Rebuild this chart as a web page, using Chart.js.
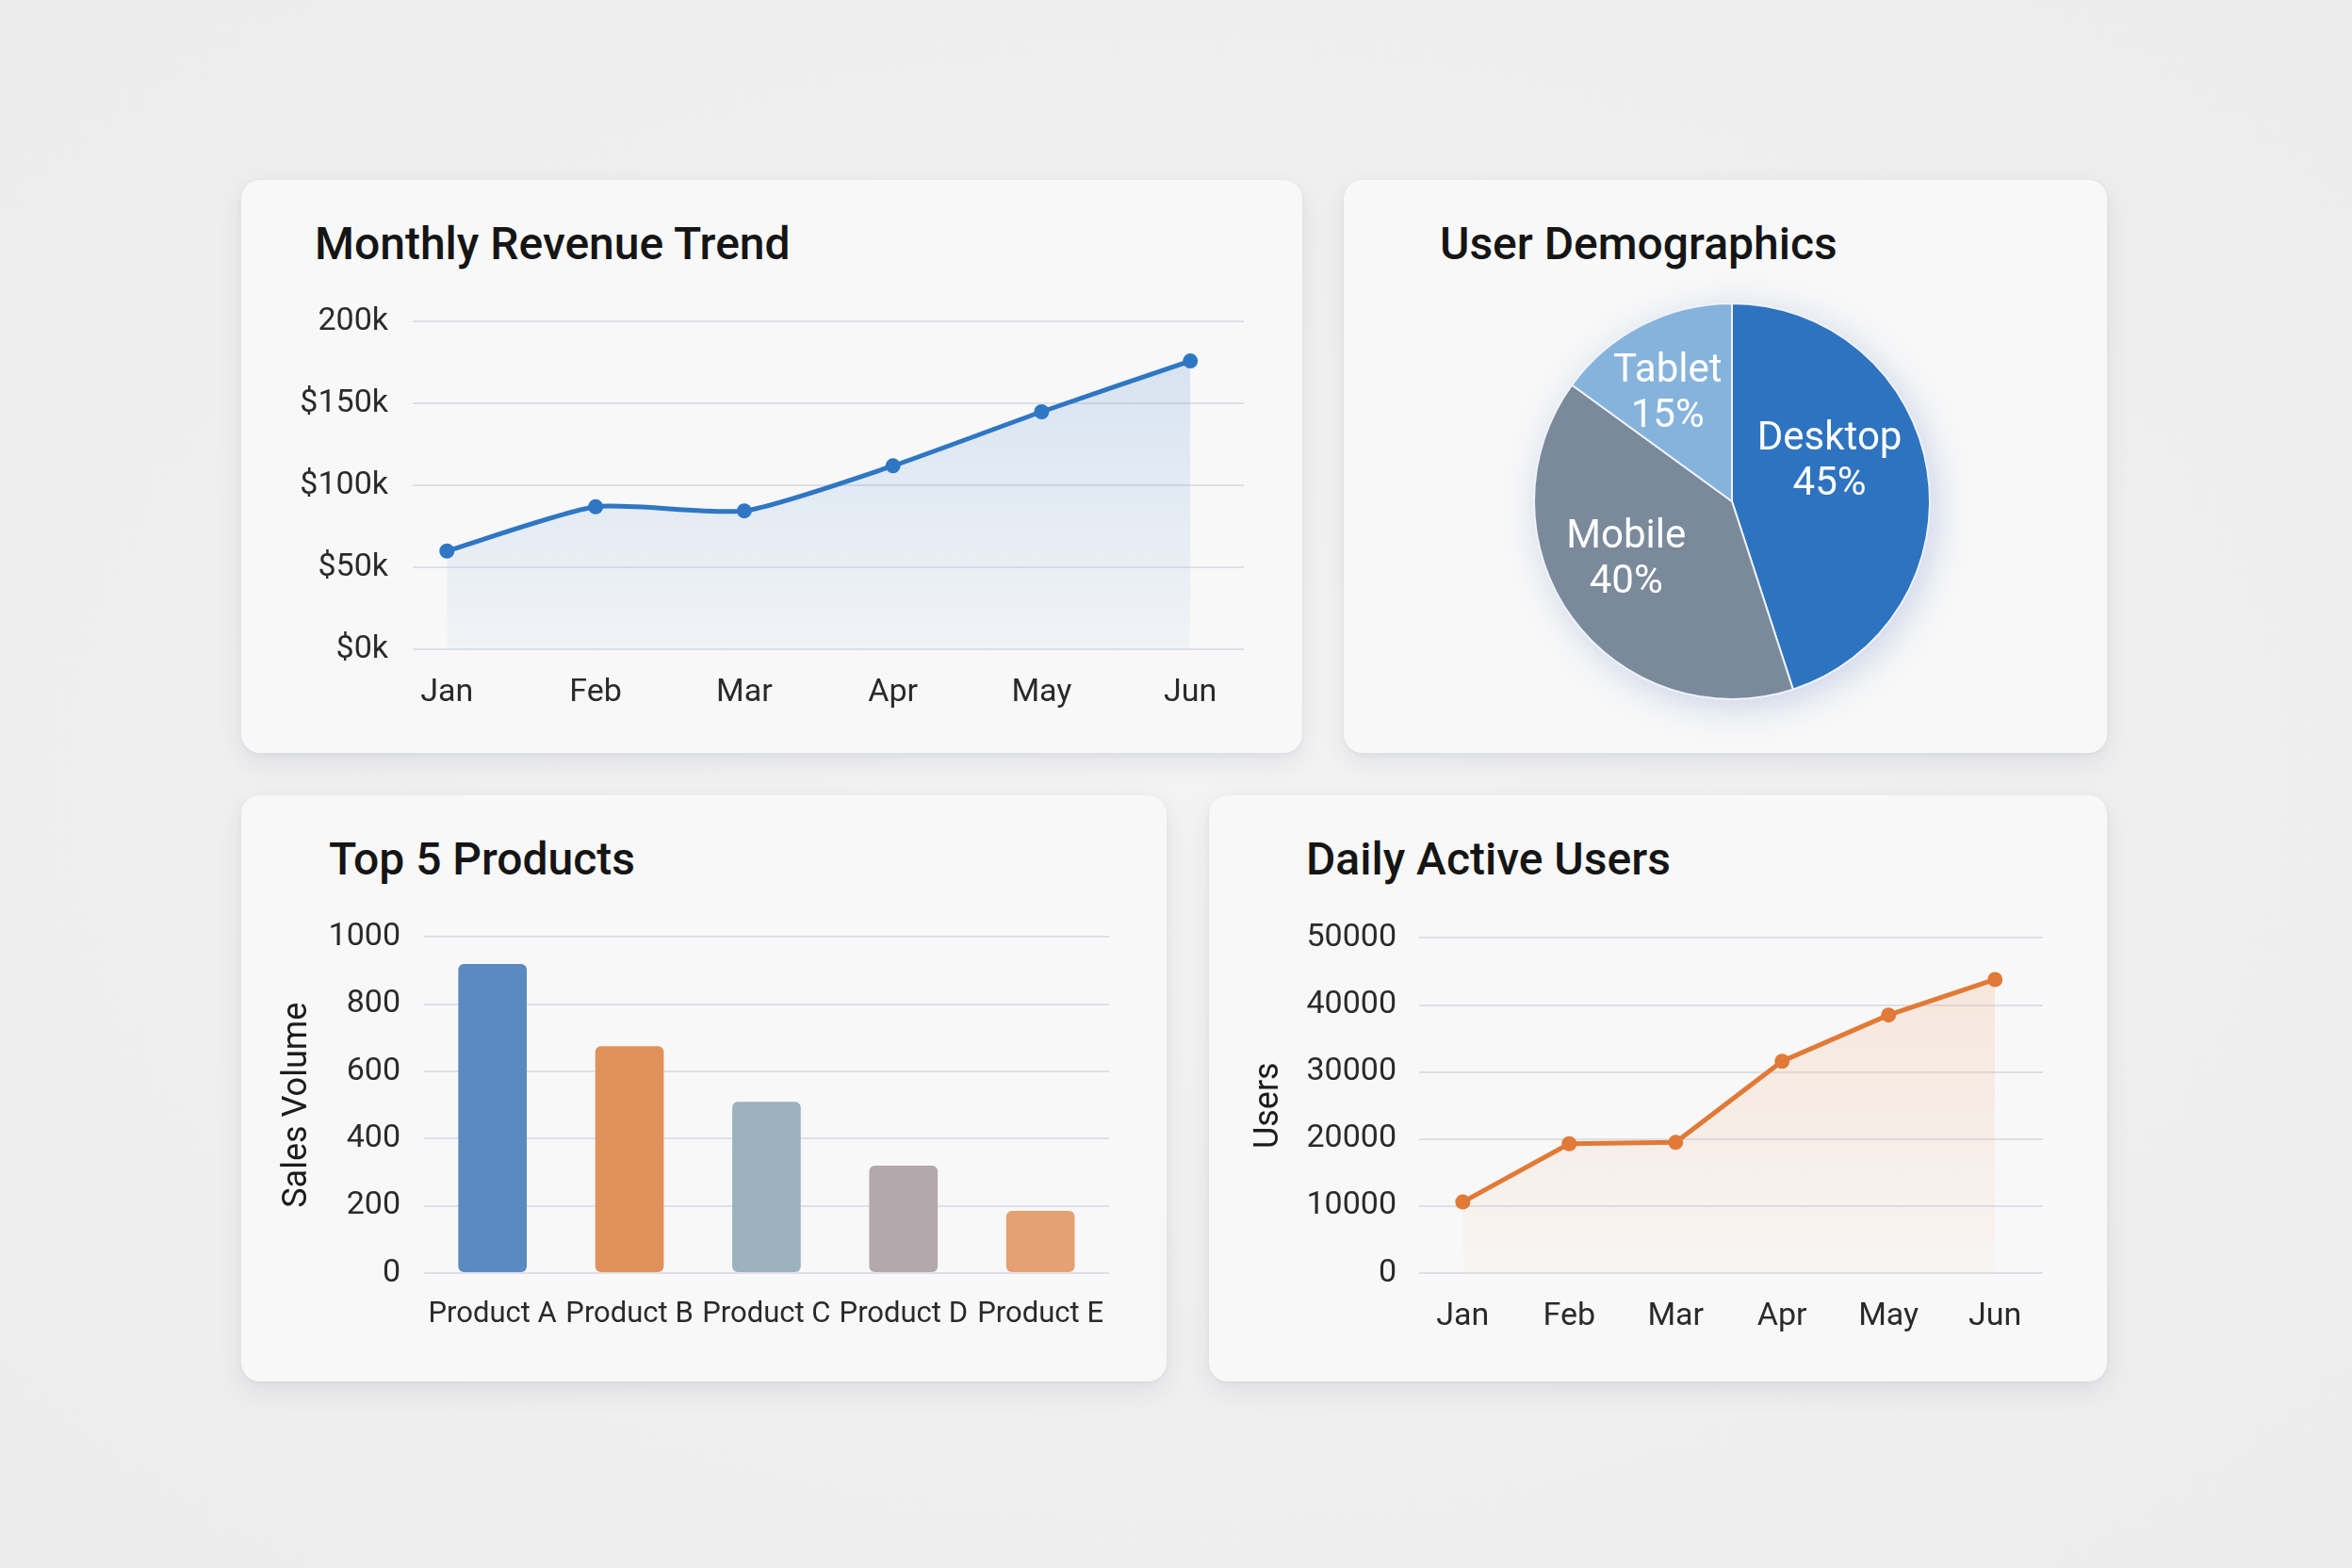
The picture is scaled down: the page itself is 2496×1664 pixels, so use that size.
<!DOCTYPE html>
<html>
<head>
<meta charset="utf-8">
<title>Dashboard</title>
<script src="https://cdn.jsdelivr.net/npm/chart.js@4.4.1/dist/chart.umd.min.js"></script>
<style>
    html, body {
        margin: 0;
        padding: 0;
        width: 2496px;
        height: 1664px;
        overflow: hidden;
        background: radial-gradient(ellipse at center, #f3f3f4 0%, #ececed 100%);
        font-family: Roboto, "Noto Sans", sans-serif;
    }
    .card {
        position: absolute;
        background: #f8f8f8;
        border-radius: 20px;
        box-shadow: 0 10px 28px rgba(40, 50, 70, 0.09), 0 2px 5px rgba(40, 50, 70, 0.05);
    }
    .card-title {
        position: absolute;
        margin: 0;
        font-size: 48px;
        font-weight: 500;
        color: #151515;
        line-height: 1;
        white-space: nowrap;
    }
    canvas {
        position: absolute;
    }
</style>
</head>
<body>

<div class="card" style="left:256px; top:191px; width:1126px; height:608px;"></div>
<div class="card" style="left:1426px; top:191px; width:810px; height:608px;"></div>
<div class="card" style="left:256px; top:844px; width:982px; height:622px;"></div>
<div class="card" style="left:1283px; top:844px; width:953px; height:622px;"></div>

<h2 class="card-title" style="left:334px; top:235px;">Monthly Revenue Trend</h2>
<h2 class="card-title" style="left:1528px; top:235px;">User Demographics</h2>
<h2 class="card-title" style="left:349px; top:888px;">Top 5 Products</h2>
<h2 class="card-title" style="left:1386px; top:888px;">Daily Active Users</h2>

<canvas id="revenueChart" style="left:300px; top:295px;" width="1028" height="474"></canvas>
<canvas id="demoChart" style="left:1578px; top:272px;" width="520" height="520"></canvas>
<canvas id="productsChart" style="left:280px; top:949px;" width="909" height="482"></canvas>
<canvas id="usersChart" style="left:1310px; top:951px;" width="866" height="480"></canvas>

<script>
// Chart data
const months = ['Jan', 'Feb', 'Mar', 'Apr', 'May', 'Jun'];

// Revenue in thousands of dollars
const revenue = [60, 87, 84.5, 112, 145, 176];
const revenueTickLabels = ['$0k', '$50k', '$100k', '$150k', '200k'];

const deviceLabels = ['Desktop', 'Mobile', 'Tablet'];
const deviceShares = [45, 40, 15];

const products = ['Product A', 'Product B', 'Product C', 'Product D', 'Product E'];
const salesVolume = [920, 675, 510, 320, 185];

const activeUsers = [10600, 19300, 19500, 31600, 38500, 43800];

// Shared look
const tickFont = { family: 'Roboto', size: 34 };
const tickColor = '#2a2a2a';
const gridColor = '#dde0e7';

Chart.defaults.font.family = 'Roboto';
Chart.defaults.animation = false;
Chart.defaults.events = [];
Chart.defaults.devicePixelRatio = 1;
Chart.defaults.responsive = false;

// Vertical gradient under a line, fading towards the x axis
function areaGradient(context, rgb, topAlpha, bottomAlpha) {
    const { ctx, chartArea } = context.chart;
    if (!chartArea) return `rgba(${rgb}, ${topAlpha})`;
    const g = ctx.createLinearGradient(0, chartArea.top, 0, chartArea.bottom);
    g.addColorStop(0, `rgba(${rgb}, ${topAlpha})`);
    g.addColorStop(1, `rgba(${rgb}, ${bottomAlpha})`);
    return g;
}

function fixWidth(w) {
    return scale => { scale.width = w; };
}
function fixHeight(h) {
    return scale => { scale.height = h; };
}

// Month axis as linear scale so the end points sit inside the grid like the picture
function monthAxis(min, max) {
    return {
        type: 'linear',
        min: min,
        max: max,
        grid: { display: false },
        border: { display: false },
        afterFit: fixHeight(80),
        ticks: {
            stepSize: 1,
            autoSkip: false,
            maxRotation: 0,
            includeBounds: false,
            padding: 18,
            font: tickFont,
            color: tickColor,
            callback: v => (Number.isInteger(v) && months[v]) ? months[v] : ''
        }
    };
}

// Monthly revenue trend
new Chart(document.getElementById('revenueChart'), {
    type: 'line',
    data: {
        datasets: [{
            data: revenue.map((v, i) => ({ x: i, y: v })),
            borderColor: '#2f77c3',
            borderWidth: 5,
            tension: 0.2,
            pointRadius: 8,
            pointBackgroundColor: '#2f77c3',
            pointBorderWidth: 0,
            fill: 'origin',
            backgroundColor: c => areaGradient(c, '70, 135, 210', 0.2, 0.04)
        }]
    },
    options: {
        layout: { padding: { top: 16, right: 0 } },
        plugins: { legend: { display: false }, tooltip: { enabled: false } },
        scales: {
            x: monthAxis(-0.23, 5.36),
            y: {
                min: 0,
                max: 200,
                afterFit: fixWidth(138),
                border: { display: false },
                grid: { color: gridColor, lineWidth: 2, drawTicks: false },
                ticks: {
                    stepSize: 50,
                    padding: 26,
                    font: tickFont,
                    color: tickColor,
                    callback: v => revenueTickLabels[v / 50]
                }
            }
        }
    }
});

// Label placement inside the pie slices (radius share, angle nudge in degrees)
const pieLabelRadius = [0.54, 0.6, 0.65];
const pieLabelNudge = [-15, 9, -3];

// Soft shadow behind the pie and labels inside the slices
const pieDecor = {
    id: 'pieDecor',
    beforeDatasetsDraw(chart) {
        const arc = chart.getDatasetMeta(0).data[0];
        if (!arc) return;
        const ctx = chart.ctx;
        ctx.save();
        ctx.shadowColor = 'rgba(60, 100, 180, 0.28)';
        ctx.shadowBlur = 40;
        ctx.shadowOffsetX = 6;
        ctx.shadowOffsetY = 8;
        ctx.fillStyle = '#7f97b3';
        ctx.beginPath();
        ctx.arc(arc.x, arc.y, arc.outerRadius - 2, 0, Math.PI * 2);
        ctx.fill();
        ctx.restore();
    },
    afterDatasetsDraw(chart) {
        const ctx = chart.ctx;
        const meta = chart.getDatasetMeta(0);
        ctx.save();
        ctx.fillStyle = '#ffffff';
        ctx.font = '42px Roboto';
        ctx.textAlign = 'center';
        ctx.textBaseline = 'middle';
        meta.data.forEach((arc, i) => {
            const mid = (arc.startAngle + arc.endAngle) / 2 + pieLabelNudge[i] * Math.PI / 180;
            const r = arc.outerRadius * pieLabelRadius[i];
            const x = arc.x + Math.cos(mid) * r;
            const y = arc.y + Math.sin(mid) * r;
            ctx.fillText(deviceLabels[i], x, y - 19);
            ctx.fillText(deviceShares[i] + '%', x, y + 29);
        });
        ctx.restore();
    }
};

// User demographics
new Chart(document.getElementById('demoChart'), {
    type: 'pie',
    data: {
        labels: deviceLabels,
        datasets: [{
            data: deviceShares,
            backgroundColor: ['#2e73c0', '#7a8a9b', '#86b3dc'],
            borderColor: '#eef3f9',
            borderWidth: 2
        }]
    },
    options: {
        layout: { padding: 49 },
        plugins: { legend: { display: false }, tooltip: { enabled: false } }
    },
    plugins: [pieDecor]
});

// Top 5 products
new Chart(document.getElementById('productsChart'), {
    type: 'bar',
    data: {
        labels: products,
        datasets: [{
            data: salesVolume,
            backgroundColor: ['#5a8abf', '#e0915c', '#9cb2bc', '#b3a9ad', '#e5a173'],
            borderRadius: 6,
            borderSkipped: false,
            categoryPercentage: 1,
            barPercentage: 0.5
        }]
    },
    options: {
        layout: { padding: { top: 17, right: 0 } },
        plugins: { legend: { display: false }, tooltip: { enabled: false } },
        scales: {
            x: {
                grid: { display: false },
                border: { display: false },
                afterFit: fixHeight(80),
                ticks: {
                    autoSkip: false,
                    maxRotation: 0,
                    padding: 18,
                    font: { family: 'Roboto', size: 31 },
                    color: tickColor
                }
            },
            y: {
                min: 0,
                max: 1000,
                afterFit: fixWidth(170),
                border: { display: false },
                grid: { color: gridColor, lineWidth: 2, drawTicks: false },
                title: {
                    display: true,
                    text: 'Sales Volume',
                    font: { family: 'Roboto', size: 36 },
                    color: '#1c1c1c',
                    padding: { top: 14, bottom: 0 }
                },
                ticks: {
                    stepSize: 200,
                    padding: 25,
                    font: tickFont,
                    color: tickColor,
                    callback: v => String(v)
                }
            }
        }
    }
});

// Daily active users
new Chart(document.getElementById('usersChart'), {
    type: 'line',
    data: {
        datasets: [{
            data: activeUsers.map((v, i) => ({ x: i, y: v })),
            borderColor: '#e07a36',
            borderWidth: 5,
            tension: 0,
            pointRadius: 8,
            pointBackgroundColor: '#e07a36',
            pointBorderWidth: 0,
            fill: 'origin',
            backgroundColor: c => areaGradient(c, '240, 150, 90', 0.2, 0.03)
        }]
    },
    options: {
        layout: { padding: { top: 19, right: 0 } },
        plugins: { legend: { display: false }, tooltip: { enabled: false } },
        scales: {
            x: monthAxis(-0.41, 5.45),
            y: {
                min: 0,
                max: 50000,
                afterFit: fixWidth(196),
                border: { display: false },
                grid: { color: gridColor, lineWidth: 2, drawTicks: false },
                title: {
                    display: true,
                    text: 'Users',
                    font: { family: 'Roboto', size: 36 },
                    color: '#1c1c1c',
                    padding: { top: 15, bottom: 0 }
                },
                ticks: {
                    stepSize: 10000,
                    padding: 24,
                    font: tickFont,
                    color: tickColor,
                    callback: v => String(v)
                }
            }
        }
    }
});
</script>
</body>
</html>
